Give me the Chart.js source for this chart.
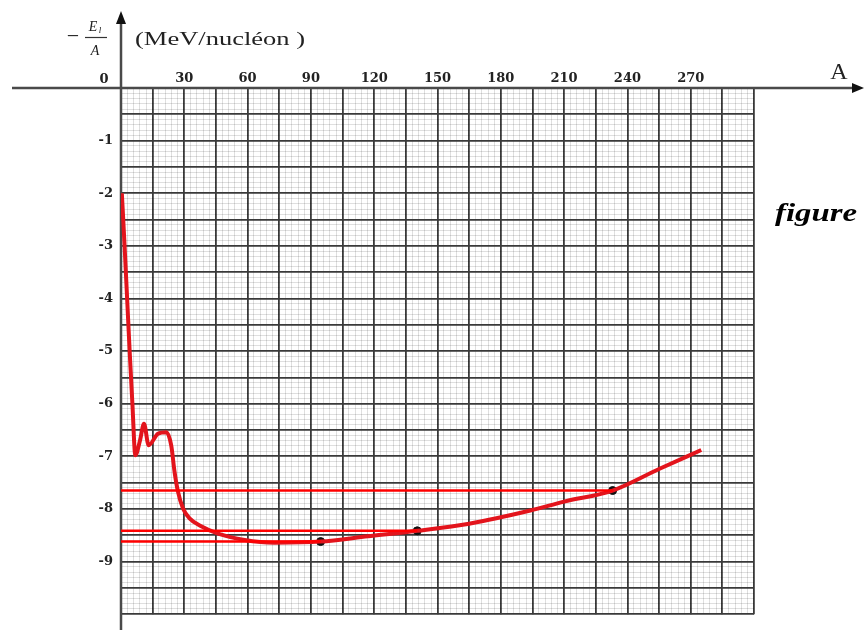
<!DOCTYPE html>
<html>
<head>
<meta charset="utf-8">
<script src="https://cdn.jsdelivr.net/npm/chart.js@4"></script>
<style>
  body { margin: 0; background: #fff; }
  #wrap { width: 865px; height: 630px; position: relative; }
</style>
</head>
<body>
<div id="wrap"><canvas id="aston"></canvas></div>
<script>
// mass number A and -El/A (MeV/nucleon)
const massNumbers = [0.4, 1.7, 2.9, 4.1, 5.4, 6.8, 9, 10.9, 13.1, 17.5, 21.5, 23.8, 25.4, 27, 29.4, 32.5, 38, 46, 58.6, 72.8, 94.6, 117, 140.4, 165, 194, 210, 233, 255, 275];
const energyPerNucleon = [-2, -3, -4, -5, -6, -6.98, -6.7, -6.38, -6.79, -6.57, -6.54, -6.79, -7.3, -7.67, -7.99, -8.18, -8.33, -8.47, -8.59, -8.64, -8.62, -8.52, -8.415, -8.28, -8.03, -7.86, -7.65, -7.24, -6.88];

// marked nuclei (black dots) and their horizontal read-off lines
const markedA = [94.6, 140.4, 233];
const markedE = [-8.62, -8.415, -7.65];

const xTickLabels = [30, 60, 90, 120, 150, 180, 210, 240, 270];
const yTickLabels = [-1, -2, -3, -4, -5, -6, -7, -8, -9];

const curvePoints = massNumbers.map((a, i) => ({ x: a, y: energyPerNucleon[i] }));

const readLines = markedA.map((a, i) => ({
  data: [{ x: 0, y: markedE[i] }, { x: a, y: markedE[i] }],
  showLine: true,
  borderColor: "#ff0000",
  borderWidth: 2.5,
  pointRadius: 0,
}));

const majorColor = "#3a3a3a";
const minorColor = "rgba(0,0,0,0.16)";

// draw text squeezed/stretched into a given width
const fitText = (ctx, text, cx, cy, font, width) => {
  ctx.save();
  ctx.font = font;
  const w = ctx.measureText(text).width;
  ctx.translate(cx, cy);
  ctx.scale(width / w, 1);
  ctx.textAlign = "center";
  ctx.textBaseline = "middle";
  ctx.fillText(text, 0, 0);
  ctx.restore();
};

const axesPlugin = {
  id: "axes",
  beforeDatasetsDraw(chart) {
    const ctx = chart.ctx;
    const x0 = chart.scales.x.getPixelForValue(0);
    const y0 = chart.scales.y.getPixelForValue(0);
    ctx.save();
    ctx.strokeStyle = "#4a4a4a";
    ctx.lineWidth = 2.5;
    ctx.beginPath();
    ctx.moveTo(12, y0);
    ctx.lineTo(854, y0);
    ctx.moveTo(x0, 630);
    ctx.lineTo(x0, 22);
    ctx.stroke();
    ctx.fillStyle = "#111";
    ctx.beginPath();
    ctx.moveTo(852, y0 - 5);
    ctx.lineTo(864, y0);
    ctx.lineTo(852, y0 + 5);
    ctx.closePath();
    ctx.fill();
    ctx.beginPath();
    ctx.moveTo(x0 - 5, 24);
    ctx.lineTo(x0, 11);
    ctx.lineTo(x0 + 5, 24);
    ctx.closePath();
    ctx.fill();
    ctx.restore();
  },
  afterDraw(chart) {
    const ctx = chart.ctx;
    ctx.save();
    ctx.fillStyle = "#222";
    ctx.textAlign = "center";
    ctx.textBaseline = "middle";
    ctx.font = "bold 13px 'DejaVu Serif'";
    ctx.fillText("0", 104, 80);

    // -El/A
    ctx.font = "22px 'Liberation Serif'";
    ctx.fillText("\u2212", 73, 37);
    ctx.font = "italic 14px 'Liberation Serif'";
    ctx.fillText("E", 93, 27);
    ctx.font = "italic 9px 'Liberation Serif'";
    ctx.fillText("l", 100, 31);
    ctx.font = "italic 14px 'Liberation Serif'";
    ctx.fillText("A", 95, 51);
    ctx.strokeStyle = "#333";
    ctx.lineWidth = 1.2;
    ctx.beginPath();
    ctx.moveTo(85, 37.5);
    ctx.lineTo(107, 37.5);
    ctx.stroke();

    fitText(ctx, "(MeV/nucléon )", 220, 40, "18px 'Liberation Serif'", 170);

    ctx.font = "24px 'Liberation Serif'";
    ctx.fillText("A", 839, 73);

    ctx.fillStyle = "#000";
    fitText(ctx, "figure", 816, 214, "bold italic 26px 'Liberation Serif'", 82);
    ctx.restore();
  },
};

const ctx = document.getElementById("aston").getContext("2d");

const astonChart = new Chart(ctx, {
  type: "scatter",
  data: {
    datasets: [
      ...readLines,
      {
        data: curvePoints,
        showLine: true,
        borderColor: "#e3141c",
        borderWidth: 4,
        pointRadius: 0,
        cubicInterpolationMode: "monotone",
      },
      {
        data: markedA.map((a, i) => ({ x: a, y: markedE[i] })),
        showLine: false,
        pointRadius: 4,
        pointBackgroundColor: "#111",
        pointBorderColor: "#111",
      },
    ],
  },
  options: {
    responsive: true,
    maintainAspectRatio: false,
    animation: false,
    layout: { padding: { left: 0, top: 0, right: 111, bottom: 14 } },
    plugins: { legend: { display: false }, tooltip: { enabled: false } },
    scales: {
      x: {
        type: "linear",
        position: "top",
        min: 0,
        max: 300,
        afterFit: (scale) => { scale.height = 88; },
        border: { display: false },
        grid: {
          drawTicks: false,
          color: (c) => (c.tick.value % 15 === 0 ? majorColor : minorColor),
          lineWidth: (c) => (c.tick.value % 15 === 0 ? 1.8 : 0.8),
        },
        ticks: {
          stepSize: 3,
          autoSkip: false,
          maxRotation: 0,
          minRotation: 0,
          padding: 2,
          color: "#222",
          font: { family: "DejaVu Serif", weight: "bold", size: 13 },
          callback: (v) => (xTickLabels.includes(v) ? String(v) : ""),
        },
      },
      y: {
        type: "linear",
        min: -10,
        max: 0,
        afterFit: (scale) => { scale.width = 121; },
        border: { display: false },
        grid: {
          drawTicks: false,
          color: (c) => (Math.round(c.tick.value * 10) % 5 === 0 ? majorColor : minorColor),
          lineWidth: (c) => (Math.round(c.tick.value * 10) % 5 === 0 ? 1.8 : 0.8),
        },
        ticks: {
          stepSize: 0.1,
          autoSkip: false,
          padding: 8,
          color: "#222",
          font: { family: "DejaVu Serif", weight: "bold", size: 13 },
          callback: (v) => {
            const r = Math.round(v * 10) / 10;
            return yTickLabels.includes(r) ? String(r) : "";
          },
        },
      },
    },
  },
  plugins: [axesPlugin],
});
</script>
</body>
</html>
